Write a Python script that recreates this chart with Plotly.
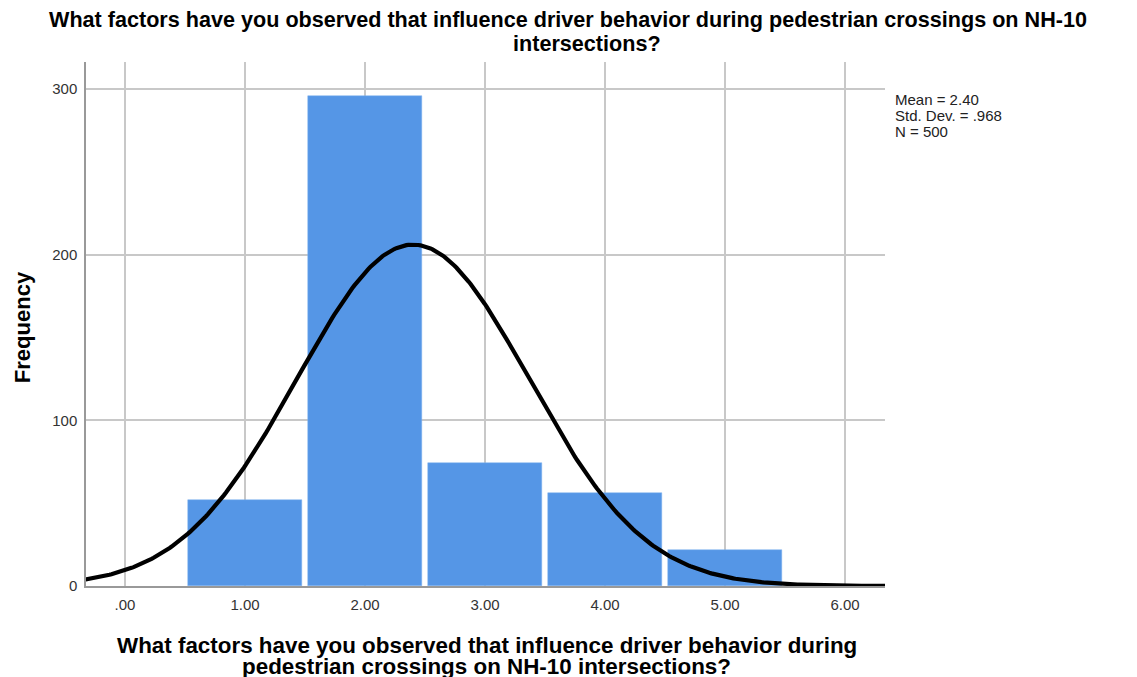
import plotly.graph_objects as go
import numpy as np

categories = [1, 2, 3, 4, 5]
frequencies = [52, 296, 74, 56, 22]
mean_val = 2.40
std_val = 0.968
n_val = 500
x_ticks = [0, 1, 2, 3, 4, 5, 6]
x_tick_labels = [".00", "1.00", "2.00", "3.00", "4.00", "5.00", "6.00"]
y_ticks = [0, 100, 200, 300]

title_lines = ["What factors have you observed that influence driver behavior during pedestrian crossings on NH-10",
               "intersections?"]
xtitle_lines = ["What factors have you observed that influence driver behavior during",
                "pedestrian crossings on NH-10 intersections?"]
stats_lines = [f"Mean = {mean_val:.2f}", "Std. Dev. = .968", f"N = {n_val}"]

xs = np.linspace(-0.33, 6.34, 400)
curve = n_val * 1.0 / (std_val * np.sqrt(2 * np.pi)) * np.exp(-0.5 * ((xs - mean_val) / std_val) ** 2)

FONT = "Arial, Liberation Sans, sans-serif"

fig = go.Figure()
fig.add_trace(go.Bar(x=categories, y=frequencies, width=0.95,
                     marker=dict(color="#5596E6", line=dict(color="#7FB0EE", width=0.5)),
                     showlegend=False))
fig.add_trace(go.Scatter(x=xs, y=curve, mode="lines",
                         line=dict(color="black", width=4.2), showlegend=False))

fig.update_layout(
    width=1137, height=677,
    margin=dict(l=86, r=252, t=62, b=91),
    plot_bgcolor="white", paper_bgcolor="white",
    font=dict(family=FONT, color="#222"),
    xaxis=dict(range=[-0.325, 6.333], tickvals=x_ticks, ticktext=x_tick_labels,
               showgrid=True, gridcolor="#C8C8C8", gridwidth=1.5,
               showline=True, linecolor="#999", linewidth=1.5,
               zeroline=False, ticks="outside", ticklen=4, tickcolor="rgba(0,0,0,0)",
               tickfont=dict(size=15, color="#333")),
    yaxis=dict(range=[0, 316.3], tickvals=y_ticks,
               showgrid=True, gridcolor="#C8C8C8", gridwidth=1.5,
               showline=True, linecolor="#999", linewidth=1.5,
               zeroline=False, ticks="outside", ticklen=4, tickcolor="rgba(0,0,0,0)",
               tickfont=dict(size=15, color="#333")),
    bargap=0,
)

# Title lines
fig.add_annotation(xref="paper", yref="paper", x=0.603, y=1.0802, xanchor="center", yanchor="middle",
                   showarrow=False, text="<b>" + title_lines[0] + "</b>",
                   font=dict(size=21.6, color="black", family=FONT))
fig.add_annotation(xref="paper", yref="paper", x=0.627, y=1.0344, xanchor="center", yanchor="middle",
                   showarrow=False, text="<b>" + title_lines[1] + "</b>",
                   font=dict(size=21.6, color="black", family=FONT))
# X axis title lines
fig.add_annotation(xref="paper", yref="paper", x=0.5025, y=-0.1126, xanchor="center", yanchor="middle",
                   showarrow=False, text="<b>" + xtitle_lines[0] + "</b>",
                   font=dict(size=22.4, color="black", family=FONT))
fig.add_annotation(xref="paper", yref="paper", x=0.501, y=-0.1527, xanchor="center", yanchor="middle",
                   showarrow=False, text="<b>" + xtitle_lines[1] + "</b>",
                   font=dict(size=22.4, color="black", family=FONT))
# Y axis title
fig.add_annotation(xref="paper", yref="paper", x=-0.0801, y=0.494, xanchor="center", yanchor="middle",
                   showarrow=False, textangle=-90, text="<b>Frequency</b>",
                   font=dict(size=22, color="black", family=FONT))
# Stats box
for txt, yy in zip(stats_lines, [0.9275, 0.897, 0.868]):
    fig.add_annotation(xref="paper", yref="paper", x=1.010, y=yy, xanchor="left", yanchor="middle",
                       showarrow=False, text=txt, align="left",
                       font=dict(size=15, color="#222", family=FONT))

fig.write_html("out.html", config={"displayModeBar": False},
               post_script="document.body.style.margin='0';document.body.style.overflow='hidden';")
